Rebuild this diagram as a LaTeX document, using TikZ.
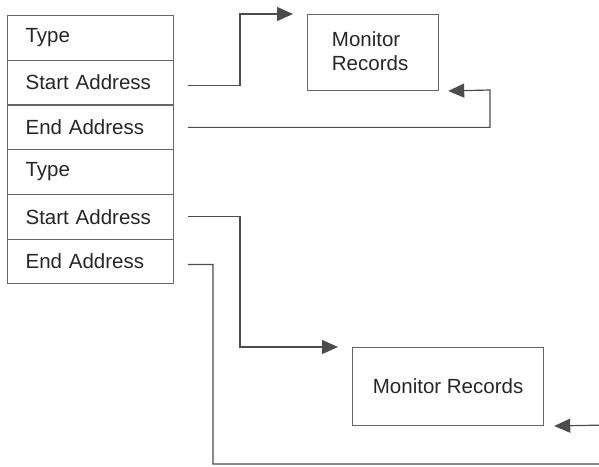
\documentclass[tikz,border=0pt]{standalone}
\usepackage{fontspec}
\setmainfont{Liberation Sans}
\usetikzlibrary{arrows.meta,positioning,calc}
\tikzset{
  field/.style={draw=black!60, line width=1.2pt, minimum width=166pt, minimum height=44.7pt,
    text width=130pt, inner xsep=18pt, inner ysep=0pt, align=left, anchor=north west,
    font=\fontsize{20.5}{24}\selectfont, text=black!85},
  recbox/.style={draw=black!60, line width=1.2pt, anchor=north west, inner sep=0pt,
    font=\fontsize{20.5}{24}\selectfont, text=black!85},
  link/.style={draw=black!70, line width=1.2pt, shorten <=14pt,
    -{Triangle[length=16pt,width=14pt]}}
}

\begin{document}
\begin{tikzpicture}[x=1pt, y=-1pt]
    \useasboundingbox (0,0) rectangle (599,466);
    \clip (0,0) rectangle (599,466);

    % table of entries
    \foreach \lbl/\nm [count=\i] in {Type/type1, Start Address/start1, End Address/end1,
      Type/type2, Start Address/start2, End Address/end2} {
      \node[field] (\nm) at (7, {15 + 44.7*(\i-1)}) {\lbl};
    }

    % monitor record boxes
    \node[recbox, minimum width=131pt, minimum height=76pt] (mon1) at (307,14) {};
    \node[font=\fontsize{20.5}{24}\selectfont, text=black!85, align=left] at ($(mon1.center)+(-3,-1)$) {Monitor\\Records};
    \node[recbox, minimum width=191pt, minimum height=78pt] (mon2) at (352,347) {Monitor Records};

    \coordinate (up1) at (240,14);
    \coordinate (rt1) at (490,90);
    \coordinate (dn2) at (240,347);
    \coordinate (dn3) at (213,464);
    \coordinate (rt2) at (606,425);

    \draw[link, shorten >=14pt] ([yshift=-3pt]start1.east) -| (up1) -- (mon1.north west);
    \draw[link, shorten >=9pt] (end1.east) -| (rt1) -- (mon1.south east);
    \draw[link, shorten >=14pt] (start2.east) -| (dn2) -- (mon2.north west);
    \draw[link, shorten >=10pt] ([yshift=-3pt]end2.east) -| (dn3) -| (rt2) -- (mon2.south east);
\end{tikzpicture}
\end{document}
